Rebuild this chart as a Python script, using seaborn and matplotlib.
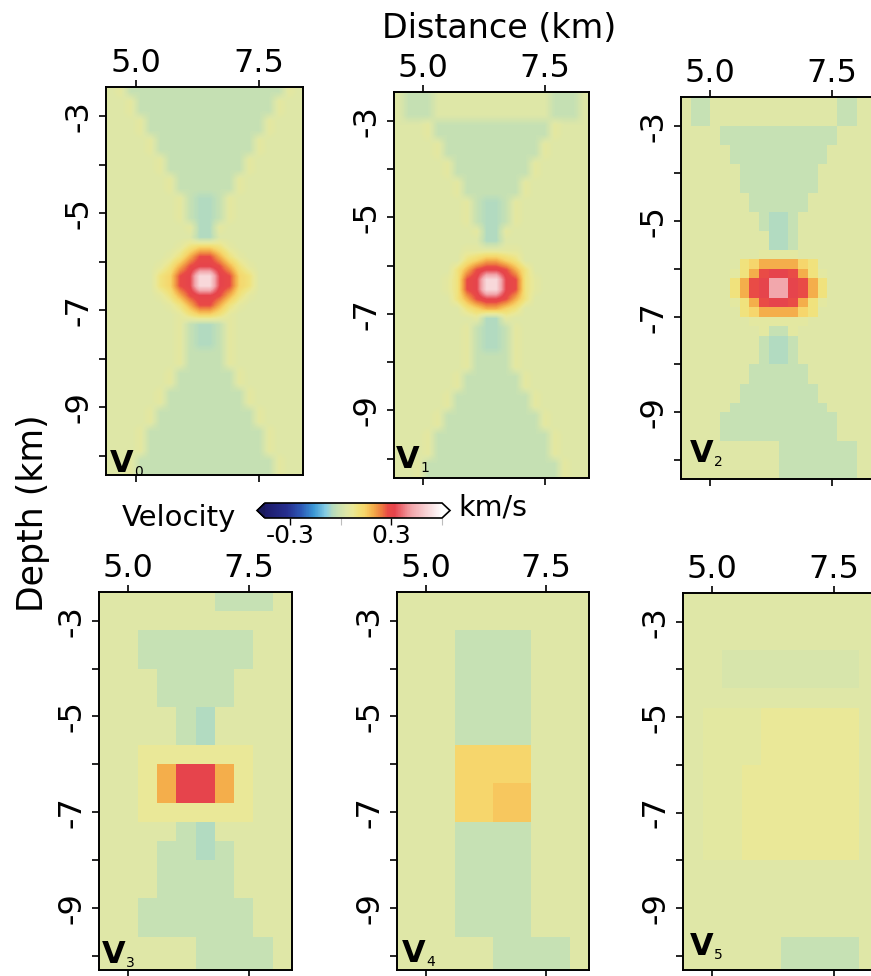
import numpy as np
import seaborn as sns
import matplotlib.pyplot as plt
from matplotlib.colors import LinearSegmentedColormap, Normalize
from matplotlib.cm import ScalarMappable
from matplotlib.ticker import FixedLocator

# physical extent of every panel (km)
X_LEFT, X_RIGHT = 4.4, 8.4
Z_TOP, Z_BOTTOM = -2.4, -10.4

# velocity perturbation (km/s) for each letter used in the grids below
LEVELS = {'.': 0.03, 'h': 0.015, 'g': -0.02, 't': -0.05, 'l': 0.05, 'L': 0.07,
          'y': 0.10, 'Y': 0.14, 'Z': 0.16, 'o': 0.19, 'r': 0.28, 'R': 0.32,
          'p': 0.42, 'w': 0.52}

# V0..V2: 20 x 40 cells (0.2 km), V3..V5: 10 x 20 cells (0.4 km); rows from top
V0 = [".lggg ggggg ggggg gggl.", "..lgg ggggg ggggg ggl..", "..lgg ggggg ggggg ggl..",
      "...lg ggggg ggggg gl...", "...lg ggggg ggggg gl...", "....l ggggg ggggg l....",
      "....l ggggg ggggg l....", "..... lgggg ggggl .....", "..... lgggg ggggl .....",
      "..... .lggg gggl. .....", "..... .lggg gggl. .....", "..... ..lgt tgl.. .....",
      "..... ..lgt tgl.. .....", "..... ..lgt tgl.. .....", "..... ...lt tl... .....",
      "..... ....t t.... .....", "..... ..lyY Yyl.. .....", "..... .lyor royl. .....",
      "..... lyorR Rroyl .....", "..... yYrRw wRrYy .....", "..... yYrRw wRrYy .....",
      "..... lyorR Rroyl .....", "..... .lyor royl. .....", "..... ..lyY Yyl.. .....",
      "..... ..lgt tgl.. .....", "..... ..lgt tgl.. .....", "..... ..lgt tgl.. .....",
      "..... ..lgg ggl.. .....", "..... ..lgg ggl.. .....", "..... .lggg gggl. .....",
      "..... .lggg gggl. .....", "..... lgggg ggggl .....", "..... lgggg ggggl .....",
      "....l ggggg ggggg l....", "....l ggggg ggggg l....", "...lg ggggg ggggg gl...",
      "...lg ggggg ggggg gl...", "...lg ggggg ggggg gl...", "..lgg ggggg ggggg ggl..",
      "..lgg ggggg ggggg ggl.."]

V1 = [".ggg. ..... ..... .ggg.", ".ggg. ..... ..... .ggg.", ".ggg. ..... ..... .ggg.",
      "...lg ggggg ggggg gl...", "...lg ggggg ggggg gl...", "....l ggggg ggggg l....",
      "....l ggggg ggggg l....", "..... lgggg ggggl .....", "..... lgggg ggggl .....",
      "..... .lggg gggl. .....", "..... .lggg gggl. .....", "..... ..lgt tgl.. .....",
      "..... ..lgt tgl.. .....", "..... ..lgt tgl.. .....", "..... ...lt tl... .....",
      "..... ....t t.... .....", "..... ..lll lll.. .....", "..... ..yYo oYy.. .....",
      "..... .yorR Rroy. .....", "..... lyrRw wRryl .....", "..... lyrRw wRryl .....",
      "..... .yorR Rroy. .....", "..... ..yYo oYy.. .....", "..... ...lt tl... .....",
      "..... ..lgt tgl.. .....", "..... ..lgt tgl.. .....", "..... ..lgt tgl.. .....",
      "..... ..lgg ggl.. .....", "..... ..lgg ggl.. .....", "..... .lggg gggl. .....",
      "..... .lggg gggl. .....", "..... lgggg ggggl .....", "..... lgggg ggggl .....",
      "....l ggggg ggggg l....", "....l ggggg ggggg l....", "...lg ggggg ggggg gl...",
      "...lg ggggg ggggg gl...", "...lg ggggg ggggg gl...", "..lgg ggggg ggggg ggl..",
      "..lgg ggggg ggggg ggl.."]

V2 = [".gg.. ..... ..... .gg..", ".gg.. ..... ..... .gg..", ".gg.. ..... ..... .gg..",
      "....g ggggg ggggg g....", "....g ggggg ggggg g....", "..... ggggg ggggg .....",
      "..... ggggg ggggg .....", "..... .gggg gggg. .....", "..... .gggg gggg. .....",
      "..... .gggg gggg. .....", "..... ..ggg ggg.. .....", "..... ..ggg ggg.. .....",
      "..... ...gt tg... .....", "..... ...gt tg... .....", "..... ....t tg... .....",
      "..... ....t tg... .....", "..... ...ll ll... .....", "..... .yYoo ooYy. .....",
      "..... lyorR Rroyl .....", "..... yorRp pRroy .....", "..... yorRp pRroy .....",
      "..... lyorR Rroyl .....", "..... .yYoo ooYy. .....", "..... ..lll lll.. .....",
      "..... ...lg gl... .....", "..... ...gt tg... .....", "..... ...gt tg... .....",
      "..... ...gt tg... .....", "..... ..ggg ggg.. .....", "..... ..ggg ggg.. .....",
      "..... .gggg gggg. .....", "..... .gggg gggg. .....", "..... ggggg ggggg .....",
      "....g ggggg ggggg g....", "....g ggggg ggggg g....", "....g ggggg ggggg g....",
      "..... ..... ggggg ggg..", "..... ..... ggggg ggg..", "..... ..... ggggg ggg..",
      "..... ..... ggggg ggg.."]

V3 = ["..... .ggg.", "..... .....", "..ggg ggg..", "..ggg ggg..", "...gg gg...",
      "...gg gg...", "....g t....", "....g t....", "..LLL LLL..", "..LoR RoL..",
      "..LoR RoL..", "..LLL LLL..", "....g t....", "...gg tg...", "...gg gg...",
      "...gg gg...", "..ggg ggg..", "..ggg ggg..", "..... gggg.", "..... gggg."]

V4 = ["..... .....", "..... .....", "...gg gg...", "...gg gg...", "...gg gg...",
      "...gg gg...", "...gg gg...", "...gg gg...", "...YY YY...", "...YY YY...",
      "...YY ZZ...", "...YY ZZ...", "...gg gg...", "...gg gg...", "...gg gg...",
      "...gg gg...", "...gg gg...", "...gg gg...", "..... gggg.", "..... gggg."]

V5 = ["..... .....", "..... .....", "..... .....", "..hhh hhhh.", "..hhh hhhh.",
      "..... .....", ".lllL LLLL.", ".lllL LLLL.", ".lllL LLLL.", ".llLL LLLL.",
      ".llLL LLLL.", ".llLL LLLL.", ".llLL LLLL.", ".llLL LLLL.", "..... .....",
      "..... .....", "..... .....", "..... .....", "..... gggg.", "..... gggg."]

PANELS = [V0, V1, V2, V3, V4, V5]
SUBSCRIPTS = ['0', '1', '2', '3', '4', '5']
DEPTH_MAJOR = [-3, -5, -7, -9]
DEPTH_MINOR = [-4, -6, -8, -10]
DIST_TICKS = [5.0, 7.5]
CBAR_TICKS = [-0.3, 0.3]

VMIN, VMAX = -0.45, 0.60
CMAP_STOPS = [(-0.45, '#1d1b6a'), (-0.32, '#262e8e'), (-0.24, '#2c56b4'),
              (-0.16, '#3b98d6'), (-0.09, '#86cde4'), (-0.05, '#b3dbc0'),
              (-0.02, '#c7e1b3'), (0.015, '#d7e5ab'), (0.03, '#dee7a8'),
              (0.05, '#e4e8a0'), (0.07, '#eae898'), (0.10, '#f0e37e'),
              (0.14, '#f6d66b'), (0.16, '#f7c75e'), (0.19, '#f4b04c'),
              (0.24, '#ee7d40'), (0.28, '#e94a46'), (0.32, '#e6444c'),
              (0.42, '#f2a6ab'), (0.52, '#f8d8da'), (0.60, '#ffffff')]

cmap = LinearSegmentedColormap.from_list(
    'velocity', [((v - VMIN) / (VMAX - VMIN), c) for v, c in CMAP_STOPS])
cmap = cmap.with_extremes(under='#1a1a5c', over='white')
norm = Normalize(VMIN, VMAX)

sns.set_theme(style='ticks')
plt.rcParams['font.family'] = ['DejaVu Sans']
plt.rcParams.update({'text.color': 'black', 'axes.labelcolor': 'black',
                     'xtick.color': 'black', 'ytick.color': 'black',
                     'xtick.labelcolor': 'black', 'ytick.labelcolor': 'black'})

W, H = 871, 976
fig = plt.figure(figsize=(W / 100, H / 100), dpi=100)


def rect(l, t, r, b):
    return [l / W, 1 - b / H, (r - l) / W, (b - t) / H]


def to_grid(rows):
    return np.array([[LEVELS[c] for c in row.replace(' ', '')] for row in rows])


def xpos(km, n):
    return (km - X_LEFT) / (X_RIGHT - X_LEFT) * n


def zpos(z, n):
    return (Z_TOP - z) / (Z_TOP - Z_BOTTOM) * n


# pixel boxes of the panels, lowest depth shown, label offset (px)
boxes = [(106, 87, 303, 475), (394, 92, 589, 478), (681, 97, 876, 479),
         (99, 592, 292, 970), (397, 592, 589, 970), (683, 593, 878, 970)]
z_low = [-10.4, -10.4, -10.4, -10.3, -10.3, -10.3]
label_off = [(4, 3), (2, 10), (9, 17), (3, 7), (5, 8), (7, 15)]

for k, rows in enumerate(PANELS):
    ax = fig.add_axes(rect(*boxes[k]))
    data = to_grid(rows)
    ny, nx = data.shape
    if k < 2:
        # finest levels: shown smooth
        ax.imshow(data, cmap=cmap, norm=norm, interpolation='bilinear',
                  extent=(0, nx, ny, 0), aspect='auto')
    else:
        sns.heatmap(data, ax=ax, cmap=cmap, vmin=VMIN, vmax=VMAX, cbar=False,
                    xticklabels=False, yticklabels=False)
    ax.set_xlim(0, nx)
    ax.set_ylim(zpos(z_low[k], ny), 0)

    ax.set_xticks([xpos(v, nx) for v in DIST_TICKS], ['%.1f' % v for v in DIST_TICKS])
    ax.set_yticks([zpos(v, ny) for v in DEPTH_MAJOR], ['%d' % v for v in DEPTH_MAJOR])
    ax.set_yticks([zpos(v, ny) for v in DEPTH_MINOR], minor=True)
    ax.tick_params(axis='x', top=True, bottom=True, labeltop=True, labelbottom=False,
                   direction='out', length=5, width=1.2, pad=0.5, labelsize=23,
                   color='black', labelcolor='black')
    ax.tick_params(axis='y', which='both', left=True, right=False, labelleft=True,
                   labelright=False, direction='out', length=5, width=1.2, pad=3,
                   labelsize=23, labelrotation=90, color='black', labelcolor='black')
    plt.setp(ax.get_yticklabels(), va='center')
    for s in ax.spines.values():
        s.set_visible(True)
        s.set_color('black')
        s.set_linewidth(1.4)

    dx, dy = label_off[k]
    ax.annotate('V', xy=(0, 0), xycoords='axes fraction',
                xytext=(dx * 0.72, dy * 0.72), textcoords='offset points',
                fontsize=22, fontweight='bold', ha='left', va='baseline', color='black')
    ax.annotate(SUBSCRIPTS[k], xy=(0, 0), xycoords='axes fraction',
                xytext=((dx + 24) * 0.72, (dy - 4) * 0.72), textcoords='offset points',
                fontsize=10, ha='left', va='baseline', color='black')

# colour bar
cax = fig.add_axes(rect(257, 503, 450, 518))
cb = fig.colorbar(ScalarMappable(norm=norm, cmap=cmap), cax=cax,
                  orientation='horizontal', extend='both', extendfrac=0.045,
                  ticks=CBAR_TICKS)
cb.ax.set_xticklabels(['%.1f' % v for v in CBAR_TICKS])
cb.outline.set_linewidth(1.2)
cb.outline.set_edgecolor('black')
cb.ax.xaxis.set_minor_locator(FixedLocator([0.0, 0.6]))
cb.ax.tick_params(which='major', direction='out', length=5, width=1, pad=-1,
                  labelsize=18, color='black', labelcolor='black')
cb.ax.tick_params(which='minor', direction='out', length=5, width=0.8,
                  color='#bdbdbd')

fig.text(499 / W, 1 - 28 / H, 'Distance (km)', ha='center', va='center', fontsize=24)
fig.text(33 / W, 1 - 513 / H, 'Depth (km)', rotation=90, ha='center', va='center',
         fontsize=25)
fig.text(122 / W, 1 - 526 / H, 'Velocity', ha='left', va='baseline', fontsize=21)
fig.text(458 / W, 1 - 516 / H, 'km/s', ha='left', va='baseline', fontsize=20.5)

fig.savefig('out.png', dpi=100)
